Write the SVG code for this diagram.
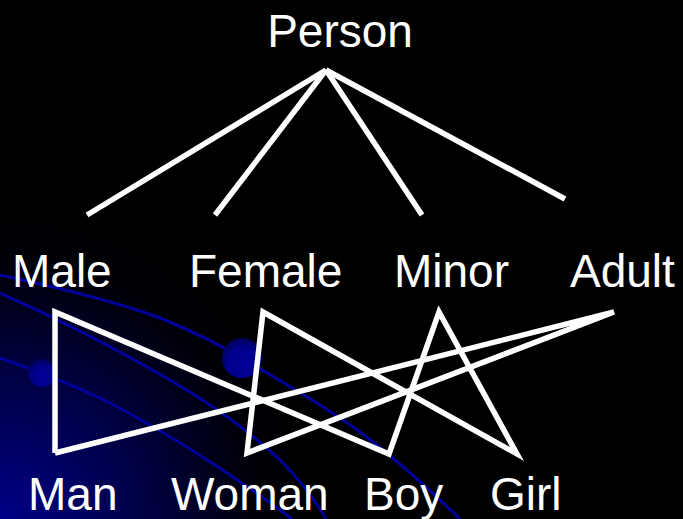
<svg xmlns="http://www.w3.org/2000/svg" width="683" height="519" viewBox="0 0 683 519">
<defs>
<radialGradient id="bg" cx="0" cy="519" r="320" gradientUnits="userSpaceOnUse">
<stop offset="0" stop-color="#000088"/>
<stop offset="0.45" stop-color="#000044"/>
<stop offset="0.8" stop-color="#000008"/>
<stop offset="1" stop-color="#000000"/>
</radialGradient>
<radialGradient id="dot" cx="0.55" cy="0.65" r="0.6">
<stop offset="0" stop-color="#00009a"/>
<stop offset="0.7" stop-color="#00008a"/>
<stop offset="1" stop-color="#000060"/>
</radialGradient>
</defs>
<style>
.lbl{font-family:"Liberation Sans",Arial,sans-serif;font-size:46px;fill:#ffffff}
.edge{stroke:#ffffff;stroke-width:5.5;fill:none;stroke-linecap:butt;stroke-linejoin:miter}
.swoosh{stroke:#00009c;stroke-width:3;fill:none}
</style>
<rect width="683" height="519" fill="#000000"/>
<rect width="683" height="519" fill="url(#bg)"/>
<g id="background">
<path class="swoosh" d="M0,275 C60,288 120,303 160,318 C200,334 230,350 262,370 C300,392 330,410 360,432 C395,458 430,490 460,519"/>
<path class="swoosh" d="M0,293 C50,315 110,345 170,380 C215,406 250,432 280,460 C300,480 315,500 326,519"/>
<path class="swoosh" d="M0,358 C40,372 80,388 110,403 C150,424 180,442 215,465 C245,485 270,502 292,519"/>
<circle cx="42" cy="373" r="14" fill="url(#dot)"/>
<circle cx="242" cy="358" r="20" fill="url(#dot)"/>
</g>
<g id="connectors">
<line class="edge" x1="326" y1="70" x2="87" y2="215"/>
<line class="edge" x1="326" y1="70" x2="215" y2="215"/>
<line class="edge" x1="326" y1="70" x2="422" y2="215"/>
<line class="edge" x1="326" y1="70" x2="565" y2="199"/>
<polyline class="edge" points="55,453 55,312 389,454 439,312 517,454 263,312 247,453 614,312 55,453"/>
</g>
<g id="node-person"><text class="lbl" x="340" y="47" text-anchor="middle">Person</text></g>
<g id="node-male"><text class="lbl" x="12" y="287">Male</text></g>
<g id="node-female"><text class="lbl" x="189" y="287">Female</text></g>
<g id="node-minor"><text class="lbl" x="394" y="287">Minor</text></g>
<g id="node-adult"><text class="lbl" x="570" y="287">Adult</text></g>
<g id="node-man"><text class="lbl" x="28" y="510">Man</text></g>
<g id="node-woman"><text class="lbl" x="171" y="510">Woman</text></g>
<g id="node-boy"><text class="lbl" x="364" y="510">Boy</text></g>
<g id="node-girl"><text class="lbl" x="490" y="510">Girl</text></g>
</svg>
